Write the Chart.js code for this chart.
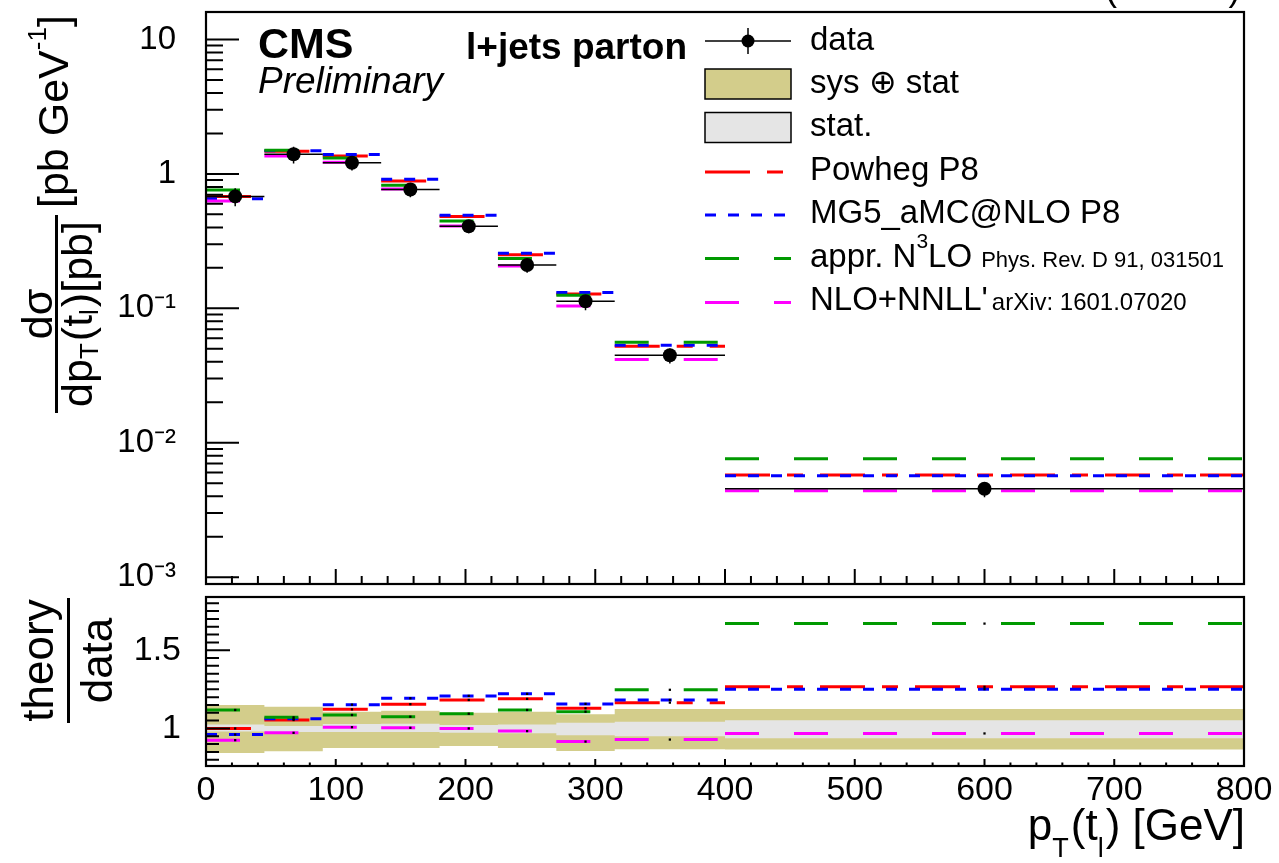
<!DOCTYPE html>
<html><head><meta charset="utf-8">
<script src="https://cdn.jsdelivr.net/npm/chart.js@4.4.0/dist/chart.umd.min.js"></script>
<style>
html,body{margin:0;padding:0;background:#fff;}
body{width:1279px;height:863px;position:relative;overflow:hidden;font-family:"Liberation Sans",Arial,Helvetica,sans-serif;color:#000;}
canvas{position:absolute;left:0;}
.t{position:absolute;white-space:nowrap;line-height:1;}
.rot{position:absolute;transform-origin:0 0;transform:rotate(-90deg);}
.bar{position:absolute;background:#000;}
.sub{font-size:26px;position:relative;}
.sup{font-size:26px;position:relative;}
</style></head><body>
<canvas id="top" width="1279" height="600" style="top:0;width:1279px;height:600px"></canvas>
<canvas id="bot" width="1279" height="273" style="top:590px;width:1279px;height:273px"></canvas>

<svg width="1279" height="863" style="position:absolute;left:0;top:0;pointer-events:none">
  <line x1="705" y1="41" x2="791" y2="41" stroke="#000" stroke-width="1.5"/>
  <line x1="748" y1="28" x2="748" y2="54" stroke="#000" stroke-width="1.5"/>
  <circle cx="748" cy="41" r="6.5" fill="#000"/>
  <rect x="705" y="69" width="86" height="30" fill="#d3cd8b" stroke="#000" stroke-width="1.5"/>
  <rect x="705" y="112.5" width="86" height="30" fill="#e5e5e5" stroke="#000" stroke-width="1.5"/>
  <line x1="705" y1="172" x2="791" y2="172" stroke="#ff0000" stroke-width="3" stroke-dasharray="45 17 16 17"/>
  <line x1="705" y1="215" x2="791" y2="215" stroke="#0000ff" stroke-width="3" stroke-dasharray="11 12"/>
  <line x1="705" y1="258.5" x2="791" y2="258.5" stroke="#009900" stroke-width="3" stroke-dasharray="34 35"/>
  <line x1="705" y1="302.5" x2="791" y2="302.5" stroke="#ff00ff" stroke-width="3" stroke-dasharray="34 35"/>
</svg>

<div class="t" style="left:1105px;top:-30px;font-size:36px">(13 TeV)</div>
<div class="t" style="left:258px;top:22px;font-size:43px;font-weight:bold">CMS</div>
<div class="t" style="left:258px;top:62px;font-size:37px;font-style:italic">Preliminary</div>
<div class="t" style="left:466px;top:28px;font-size:37px;font-weight:bold">l+jets parton</div>

<div class="t" style="left:810px;top:21.6px;font-size:33px">data</div>
<div class="t" style="left:810px;top:65px;font-size:33px">sys ⊕ stat</div>
<div class="t" style="left:810px;top:108.4px;font-size:33px">stat.</div>
<div class="t" style="left:810px;top:151.8px;font-size:33px">Powheg P8</div>
<div class="t" style="left:810px;top:195.2px;font-size:33px">MG5_aMC@NLO P8</div>
<div class="t" style="left:810px;top:238.6px;font-size:33px">appr. N<span style="font-size:21px;position:relative;top:-19px">3</span>LO<span style="font-size:22px;margin-left:9px">Phys. Rev. D 91, 031501</span></div>
<div class="t" style="left:810px;top:282px;font-size:33px">NLO+NNLL'<span style="font-size:24px;margin-left:4px">arXiv: 1601.07020</span></div>

<div class="rot" style="left:4px;top:414px;width:420px;height:130px;">
  <div class="t" style="left:0;width:200px;text-align:center;top:11.6px;font-size:43px">dσ</div>
  <div class="bar" style="left:1px;top:51px;width:198px;height:2.5px"></div>
  <div class="t" style="left:0;width:200px;text-align:center;top:51.6px;font-size:43px">dp<span class="sub" style="top:6px;margin-right:2px">T</span>(t<span class="sub" style="top:6px;margin-right:2px">l</span>)[pb]</div>
  <div class="t" style="left:206px;top:27.6px;font-size:43px">[pb GeV<span class="sup" style="top:-22px">-1</span>]</div>
</div>

<div class="rot" style="left:0;top:725px;width:130px;height:120px;">
  <div class="t" style="left:0;width:129px;text-align:center;top:15.8px;font-size:44px">theory</div>
  <div class="bar" style="left:2px;top:67px;width:125px;height:2.5px"></div>
  <div class="t" style="left:0;width:129px;text-align:center;top:74.8px;font-size:44px">data</div>
</div>

<div class="t" style="right:34px;top:803px;font-size:44px;text-align:right">p<span class="sub" style="top:17px;margin-right:2px;font-size:27px">T</span>(t<span class="sub" style="top:17px;margin-right:2px;font-size:27px">l</span>) [GeV]</div>

<script>
// ---------------- data ----------------
const binEdges   = [0, 45, 90, 135, 180, 225, 270, 315, 400, 800];
const dataXsec   = [0.68, 1.40, 1.21, 0.766, 0.408, 0.21, 0.113, 0.0448, 0.00455];
const powhegXsec = [0.68, 1.476, 1.36, 0.885, 0.482, 0.250, 0.128, 0.0523, 0.00576];
const mg5Xsec    = [0.653, 1.484, 1.394, 0.914, 0.493, 0.257, 0.131, 0.0531, 0.00569];
const n3loXsec   = [0.760, 1.499, 1.314, 0.823, 0.446, 0.235, 0.125, 0.0560, 0.0076];
const nnllXsec   = [0.629, 1.361, 1.221, 0.773, 0.409, 0.206, 0.104, 0.0417, 0.0044];

const powhegRatio = [1.00, 1.054, 1.122, 1.155, 1.182, 1.189, 1.129, 1.165, 1.266];
const mg5Ratio    = [0.961, 1.062, 1.152, 1.193, 1.208, 1.221, 1.157, 1.182, 1.251];
const n3loRatio   = [1.118, 1.071, 1.086, 1.075, 1.094, 1.118, 1.107, 1.247, 1.67];
const nnllRatio   = [0.925, 0.972, 1.008, 1.004, 1.000, 0.983, 0.916, 0.929, 0.968];

const totUp    = [1.150, 1.139, 1.107, 1.113, 1.100, 1.107, 1.090, 1.124, 1.124];
const totDown  = [0.843, 0.854, 0.875, 0.875, 0.888, 0.875, 0.856, 0.867, 0.865];
const statUp   = [1.025, 1.015, 1.028, 1.030, 1.022, 1.026, 1.036, 1.043, 1.053];
const statDown = [0.980, 0.978, 0.978, 0.978, 0.972, 0.970, 0.957, 0.950, 0.937];

const topYLabelValues = [10, 1, 0.1, 0.01, 0.001];
const topYLabelTexts  = ['10', '1', '10⁻¹', '10⁻²', '10⁻³'];
const ratioYLabelValues = [1, 1.5];
const ratioYLabelTexts  = ['1', '1.5'];
const xLabelValues = [0, 100, 200, 300, 400, 500, 600, 700, 800];
const xLabelTexts  = ['0', '100', '200', '300', '400', '500', '600', '700', '800'];

// ---------------- helpers ----------------
const FONT = "'Liberation Sans', Arial, Helvetica, sans-serif";
const colors = {powheg:'#ff0000', mg5:'#0000ff', n3lo:'#009900', nnll:'#ff00ff', tot:'#d3cd8b', stat:'#e5e5e5'};
const dashes = {powheg:[45,17,16,17], mg5:[11,12], n3lo:[34,35], nnll:[34,35]};

function steps(vals){
  const p=[];
  vals.forEach((v,i)=>{p.push({x:binEdges[i],y:v},{x:binEdges[i+1],y:v},{x:binEdges[i+1],y:null});});
  return p;
}
function bandPts(vals){
  const p=[];
  vals.forEach((v,i)=>{p.push({x:binEdges[i],y:v},{x:binEdges[i+1],y:v});});
  return p;
}
function centers(vals){
  return vals.map((v,i)=>({x:(binEdges[i]+binEdges[i+1])/2,y:v}));
}
function errBars(vals, lo, hi){
  const p=[];
  vals.forEach((v,i)=>{const c=(binEdges[i]+binEdges[i+1])/2;p.push({x:c,y:v*lo[i]},{x:c,y:v*hi[i]},{x:c,y:null});});
  return p;
}
function labelFor(values, texts, v){
  for(let i=0;i<values.length;i++){ if(Math.abs(v-values[i])<=1e-6*Math.max(1,Math.abs(values[i]))) return texts[i]; }
  return '';
}
function lineDS(data,color,dash,order,width){
  return {data, borderColor:color, borderWidth:width||3, borderDash:dash||[], pointRadius:0, fill:false, order, spanGaps:false};
}

const xTicks=[]; for(let v=0;v<=800;v+=20) xTicks.push(v);
const logTicks=[]; for(let e=-3;e<=1;e++) for(let m=1;m<=9;m++){const v=m*Math.pow(10,e); if(v>=0.00089 && v<=16) logTicks.push(v);}
const ratioTicks=[]; for(let k=16;k<=36;k++) ratioTicks.push(k*0.05);

const isLogMajor = v => Math.abs(Math.log10(v)-Math.round(Math.log10(v)))<1e-6;
const isXMajor = v => Math.abs(v/100-Math.round(v/100))<1e-6;
const isRatioMajor = v => Math.abs(v*2-Math.round(v*2))<1e-6;

function rootFrame(o){
  return {id:'rootFrame', afterDatasetsDraw(chart){
    const {ctx, chartArea:a} = chart; const xs=chart.scales.x, ys=chart.scales.y;
    ctx.save(); ctx.strokeStyle='#000'; ctx.lineWidth=2; ctx.beginPath();
    xs.ticks.forEach(t=>{const px=xs.getPixelForValue(t.value); const L=o.xMajor(t.value)?o.xMaj:o.xMin; ctx.moveTo(px,a.bottom); ctx.lineTo(px,a.bottom-L);});
    ys.ticks.forEach(t=>{const py=ys.getPixelForValue(t.value); const L=o.yMajor(t.value)?o.yMaj:o.yMin; ctx.moveTo(a.left,py); ctx.lineTo(a.left+L,py);});
    ctx.stroke();
    ctx.lineWidth=2.2; ctx.strokeRect(a.left,a.top,a.right-a.left,a.bottom-a.top);
    ctx.restore();
  }};
}

const xScaleBase = (showLabels, h) => ({
  type:'linear', min:0, max:800, bounds:'data',
  grid:{display:false, drawTicks:false}, border:{display:false},
  ticks:{display:showLabels, autoSkip:false, maxRotation:0, padding:4, color:'#000', font:{family:FONT,size:34},
         callback:(v)=>labelFor(xLabelValues,xLabelTexts,v)},
  afterBuildTicks:s=>{s.ticks=xTicks.map(v=>({value:v}));},
  afterFit:s=>{s.height=h; s.paddingLeft=0; s.paddingRight=0;}
});

// ---------------- top panel ----------------
new Chart(document.getElementById('top'), {
  type:'line',
  data:{datasets:[
    {data:centers(dataXsec), showLine:false, pointRadius:7, pointBackgroundColor:'#000', pointBorderWidth:0, order:0},
    lineDS(errBars(dataXsec,totDown,totUp),'#000',[],1,1.5),
    lineDS(steps(dataXsec),'#000',[],2,1.5),
    lineDS(steps(nnllXsec),colors.nnll,dashes.nnll,3),
    lineDS(steps(n3loXsec),colors.n3lo,dashes.n3lo,4),
    lineDS(steps(mg5Xsec),colors.mg5,dashes.mg5,5),
    lineDS(steps(powhegXsec),colors.powheg,dashes.powheg,6)
  ]},
  options:{
    responsive:false, animation:false, devicePixelRatio:1,
    layout:{padding:{left:0,right:35,top:12,bottom:0}},
    plugins:{legend:{display:false}, tooltip:{enabled:false}},
    scales:{
      x: xScaleBase(false,16),
      y:{type:'logarithmic', min:0.00089, max:16, bounds:'data',
         grid:{display:false, drawTicks:false}, border:{display:false},
         ticks:{autoSkip:false, padding:30, color:'#000', font:{family:FONT,size:33},
                callback:(v)=>labelFor(topYLabelValues,topYLabelTexts,v)},
         afterBuildTicks:s=>{s.ticks=logTicks.map(v=>({value:v}));},
         afterFit:s=>{s.width=206; s.paddingTop=0; s.paddingBottom=0;}}
    }
  },
  plugins:[rootFrame({xMajor:isXMajor,xMaj:15,xMin:8,yMajor:isLogMajor,yMaj:33,yMin:17})]
});

// ---------------- ratio panel ----------------
new Chart(document.getElementById('bot'), {
  type:'line',
  data:{datasets:[
    {data:bandPts(totUp), borderWidth:0, pointRadius:0, fill:'+1', backgroundColor:colors.tot, order:30},
    {data:bandPts(totDown), borderWidth:0, pointRadius:0, fill:false, order:31},
    {data:bandPts(statUp), borderWidth:0, pointRadius:0, fill:'+1', backgroundColor:colors.stat, order:20},
    {data:bandPts(statDown), borderWidth:0, pointRadius:0, fill:false, order:21},
    lineDS(steps(powhegRatio),colors.powheg,dashes.powheg,9),
    lineDS(steps(mg5Ratio),colors.mg5,dashes.mg5,8),
    lineDS(steps(n3loRatio),colors.n3lo,dashes.n3lo,7),
    lineDS(steps(nnllRatio),colors.nnll,dashes.nnll,6),
    {data:centers(powhegRatio).concat(centers(mg5Ratio),centers(n3loRatio),centers(nnllRatio)), showLine:false, pointStyle:'rect', pointRadius:1.6, pointBackgroundColor:'#000', pointBorderWidth:0, order:0}
  ]},
  options:{
    responsive:false, animation:false, devicePixelRatio:1,
    layout:{padding:{left:0,right:35,top:7,bottom:0}},
    plugins:{legend:{display:false}, tooltip:{enabled:false}},
    scales:{
      x: xScaleBase(true,97),
      y:{type:'linear', min:0.76, max:1.84, bounds:'data',
         grid:{display:false, drawTicks:false}, border:{display:false},
         ticks:{autoSkip:false, padding:25, color:'#000', font:{family:FONT,size:34},
                callback:(v)=>labelFor(ratioYLabelValues,ratioYLabelTexts,v)},
         afterBuildTicks:s=>{s.ticks=ratioTicks.map(v=>({value:v}));},
         afterFit:s=>{s.width=206; s.paddingTop=0; s.paddingBottom=0;}}
    }
  },
  plugins:[rootFrame({xMajor:isXMajor,xMaj:7,xMin:3.5,yMajor:isRatioMajor,yMaj:24,yMin:13})]
});
</script>
</body></html>
